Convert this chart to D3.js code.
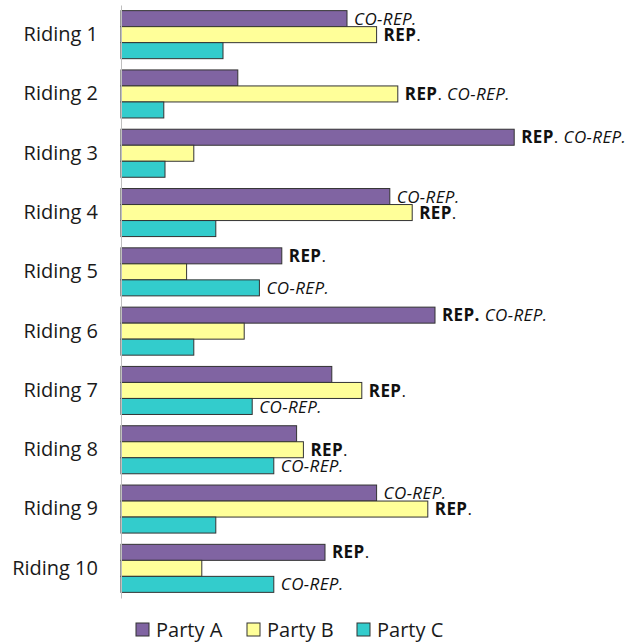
<!DOCTYPE html>
<html><head><meta charset="utf-8">
<script src="https://cdn.jsdelivr.net/npm/d3@7"></script>
<style>body{margin:0;background:#fff}svg{display:block}</style>
</head><body>
<script>
const ridings = ["Riding 1","Riding 2","Riding 3","Riding 4","Riding 5","Riding 6","Riding 7","Riding 8","Riding 9","Riding 10"];
const parties = ["Party A","Party B","Party C"];
const partyA = [56.5, 29.2, 98.3, 67.2, 40.2, 78.5, 52.7, 43.9, 63.9, 51.0];
const partyB = [63.9, 69.2, 18.2, 72.8, 16.4, 30.8, 60.2, 45.6, 76.7, 20.2];
const partyC = [25.5, 10.7, 11.0, 23.7, 34.6, 18.2, 32.8, 38.2, 23.7, 38.2];
// label codes: "R" = REP., "C" = CO-REP., "RC" = REP. CO-REP., "R!C" = REP. (bold period) CO-REP.
const labelA = ["C", "", "RC", "C", "R", "R!C", "", "", "C", "R"];
const labelB = ["R", "RC", "", "R", "", "", "R", "R", "R", ""];
const labelC = ["", "", "", "", "C", "", "C", "C", "", "C"];
const colors = ["#8064A2", "#FFFF99", "#33CCCC"];

const W = 629, H = 643;
const svg = d3.select("body").append("svg").attr("width", W).attr("height", H);
const x0 = 121;
const x = d3.scaleLinear().domain([0, 100]).range([x0, x0 + 400]);
const y = d3.scaleBand().domain(ridings).range([5, 598]).paddingInner(0.19).paddingOuter(0.095);
const ys = d3.scaleBand().domain(parties).range([0, y.bandwidth()]);

const series = [partyA, partyB, partyC];
const labels = [labelA, labelB, labelC];

const g = svg.append("g");
ridings.forEach((r, i) => {
  parties.forEach((p, j) => {
    const v = series[j][i];
    g.append("rect")
      .attr("x", x(0)).attr("y", y(r) + ys(p))
      .attr("width", x(v) - x(0)).attr("height", ys.bandwidth())
      .attr("fill", colors[j]).attr("stroke", "#333").attr("stroke-width", 1);
    const code = labels[j][i];
    if (code) {
      const t = g.append("text")
        .attr("x", x(v) + 7).attr("y", y(r) + ys(p) + ys.bandwidth() / 2)
        .attr("dy", "0.36em")
        .attr("font-family", "'Open Sans', sans-serif").attr("font-size", 17)
        .attr("letter-spacing", 0.4)
        .attr("fill", "#111");
      if (code.startsWith("R")) {
        if (code.includes("!")) {
          t.append("tspan").attr("font-weight", "bold").text("REP.");
        } else {
          t.append("tspan").attr("font-weight", "bold").text("REP");
          t.append("tspan").text(".");
        }
        if (code.endsWith("C")) t.append("tspan").attr("font-style", "italic").text(" CO-REP.");
      } else {
        t.append("tspan").attr("font-style", "italic").text("CO-REP.");
      }
    }
  });
});

const ax = svg.append("g").attr("transform", `translate(${x0},0)`)
  .call(d3.axisLeft(y).tickSize(0).tickPadding(23));
ax.select(".domain").attr("stroke", "#bfbfbf").attr("stroke-width", 1);
ax.selectAll("text").attr("font-family", "'Open Sans', sans-serif").attr("font-size", 20).attr("fill", "#1a1a1a");

// legend
const legX = [136, 247, 357];
const leg = svg.append("g");
parties.forEach((p, j) => {
  leg.append("rect").attr("x", legX[j]).attr("y", 623).attr("width", 13).attr("height", 13)
    .attr("fill", colors[j]).attr("stroke", "#333").attr("stroke-width", 1);
  leg.append("text").attr("x", legX[j] + 20).attr("y", 630).attr("dy", "0.36em")
    .attr("font-family", "'Open Sans', sans-serif").attr("font-size", 20).attr("fill", "#1a1a1a").text(p);
});
</script>
</body></html>
